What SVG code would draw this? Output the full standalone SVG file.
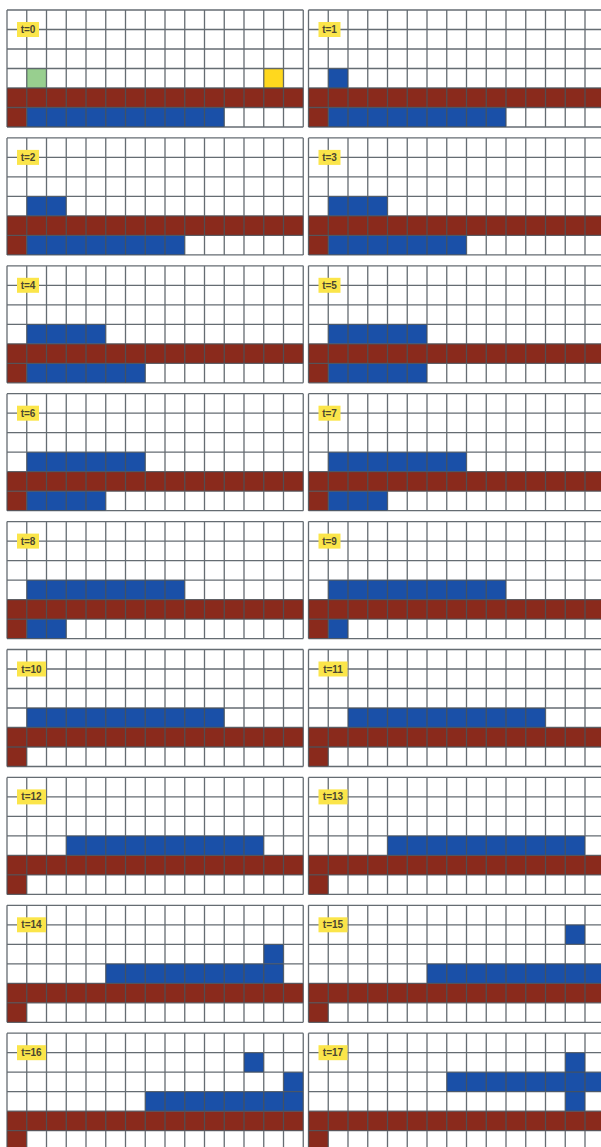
<svg xmlns="http://www.w3.org/2000/svg" xmlns:xlink="http://www.w3.org/1999/xlink" width="601" height="1147" viewBox="0 0 601 1147">
<style>
.bg{fill:#ffffff}
.r{fill:#8a2a1c}
.b{fill:#1a50a8}
.g{fill:#98cf8f}
.y{fill:#ffd81e}
.gl{fill:none;stroke:#4a5259;stroke-width:1.3;stroke-opacity:0.85}
.lb{fill:#fbe54a}
.lt{font-family:"Liberation Sans",Arial,sans-serif;font-size:10px;font-weight:bold;fill:#4a4630;text-anchor:middle}
</style>
<defs>
<g id="base">
<rect class="r" x="0" y="78" width="296.25" height="19.5"/>
<rect class="r" x="0" y="97.5" width="19.75" height="19.5"/>
</g>
<path id="grid" class="gl" d="M0 0V117M19.75 0V117M39.5 0V117M59.25 0V117M79 0V117M98.75 0V117M118.5 0V117M138.25 0V117M158 0V117M177.75 0V117M197.5 0V117M217.25 0V117M237 0V117M256.75 0V117M276.5 0V117M296.25 0V117M0 0H296.25M0 19.5H296.25M0 39H296.25M0 58.5H296.25M0 78H296.25M0 97.5H296.25M0 117H296.25"/>
</defs>
<rect class="bg" x="0" y="0" width="601" height="1147"/>

<g id="t0" transform="translate(7,10)">
<use xlink:href="#base" href="#base"/>
<rect class="g" x="19.75" y="58.5" width="19.75" height="19.5"/>
<rect class="y" x="256.75" y="58.5" width="19.75" height="19.5"/>
<rect class="b" x="19.75" y="97.5" width="197.5" height="19.5"/>
<use xlink:href="#grid" href="#grid"/>
<rect class="lb" x="10" y="12" width="22" height="15"/><text class="lt" x="21" y="23">t=0</text>
</g>
<g id="t1" transform="translate(308.5,10)">
<use xlink:href="#base" href="#base"/>
<rect class="b" x="19.75" y="58.5" width="19.75" height="19.5"/>
<rect class="b" x="19.75" y="97.5" width="177.75" height="19.5"/>
<use xlink:href="#grid" href="#grid"/>
<rect class="lb" x="10" y="12" width="22" height="15"/><text class="lt" x="21" y="23">t=1</text>
</g>
<g id="t2" transform="translate(7,137.9)">
<use xlink:href="#base" href="#base"/>
<rect class="b" x="19.75" y="58.5" width="39.5" height="19.5"/>
<rect class="b" x="19.75" y="97.5" width="158" height="19.5"/>
<use xlink:href="#grid" href="#grid"/>
<rect class="lb" x="10" y="12" width="22" height="15"/><text class="lt" x="21" y="23">t=2</text>
</g>
<g id="t3" transform="translate(308.5,137.9)">
<use xlink:href="#base" href="#base"/>
<rect class="b" x="19.75" y="58.5" width="59.25" height="19.5"/>
<rect class="b" x="19.75" y="97.5" width="138.25" height="19.5"/>
<use xlink:href="#grid" href="#grid"/>
<rect class="lb" x="10" y="12" width="22" height="15"/><text class="lt" x="21" y="23">t=3</text>
</g>
<g id="t4" transform="translate(7,265.8)">
<use xlink:href="#base" href="#base"/>
<rect class="b" x="19.75" y="58.5" width="79" height="19.5"/>
<rect class="b" x="19.75" y="97.5" width="118.5" height="19.5"/>
<use xlink:href="#grid" href="#grid"/>
<rect class="lb" x="10" y="12" width="22" height="15"/><text class="lt" x="21" y="23">t=4</text>
</g>
<g id="t5" transform="translate(308.5,265.8)">
<use xlink:href="#base" href="#base"/>
<rect class="b" x="19.75" y="58.5" width="98.75" height="19.5"/>
<rect class="b" x="19.75" y="97.5" width="98.75" height="19.5"/>
<use xlink:href="#grid" href="#grid"/>
<rect class="lb" x="10" y="12" width="22" height="15"/><text class="lt" x="21" y="23">t=5</text>
</g>
<g id="t6" transform="translate(7,393.7)">
<use xlink:href="#base" href="#base"/>
<rect class="b" x="19.75" y="58.5" width="118.5" height="19.5"/>
<rect class="b" x="19.75" y="97.5" width="79" height="19.5"/>
<use xlink:href="#grid" href="#grid"/>
<rect class="lb" x="10" y="12" width="22" height="15"/><text class="lt" x="21" y="23">t=6</text>
</g>
<g id="t7" transform="translate(308.5,393.7)">
<use xlink:href="#base" href="#base"/>
<rect class="b" x="19.75" y="58.5" width="138.25" height="19.5"/>
<rect class="b" x="19.75" y="97.5" width="59.25" height="19.5"/>
<use xlink:href="#grid" href="#grid"/>
<rect class="lb" x="10" y="12" width="22" height="15"/><text class="lt" x="21" y="23">t=7</text>
</g>
<g id="t8" transform="translate(7,521.6)">
<use xlink:href="#base" href="#base"/>
<rect class="b" x="19.75" y="58.5" width="158" height="19.5"/>
<rect class="b" x="19.75" y="97.5" width="39.5" height="19.5"/>
<use xlink:href="#grid" href="#grid"/>
<rect class="lb" x="10" y="12" width="22" height="15"/><text class="lt" x="21" y="23">t=8</text>
</g>
<g id="t9" transform="translate(308.5,521.6)">
<use xlink:href="#base" href="#base"/>
<rect class="b" x="19.75" y="58.5" width="177.75" height="19.5"/>
<rect class="b" x="19.75" y="97.5" width="19.75" height="19.5"/>
<use xlink:href="#grid" href="#grid"/>
<rect class="lb" x="10" y="12" width="22" height="15"/><text class="lt" x="21" y="23">t=9</text>
</g>
<g id="t10" transform="translate(7,649.5)">
<use xlink:href="#base" href="#base"/>
<rect class="b" x="19.75" y="58.5" width="197.5" height="19.5"/>
<use xlink:href="#grid" href="#grid"/>
<rect class="lb" x="10" y="12" width="29" height="15"/><text class="lt" x="24.5" y="23">t=10</text>
</g>
<g id="t11" transform="translate(308.5,649.5)">
<use xlink:href="#base" href="#base"/>
<rect class="b" x="39.5" y="58.5" width="197.5" height="19.5"/>
<use xlink:href="#grid" href="#grid"/>
<rect class="lb" x="10" y="12" width="29" height="15"/><text class="lt" x="24.5" y="23">t=11</text>
</g>
<g id="t12" transform="translate(7,777.4)">
<use xlink:href="#base" href="#base"/>
<rect class="b" x="59.25" y="58.5" width="197.5" height="19.5"/>
<use xlink:href="#grid" href="#grid"/>
<rect class="lb" x="10" y="12" width="29" height="15"/><text class="lt" x="24.5" y="23">t=12</text>
</g>
<g id="t13" transform="translate(308.5,777.4)">
<use xlink:href="#base" href="#base"/>
<rect class="b" x="79" y="58.5" width="197.5" height="19.5"/>
<use xlink:href="#grid" href="#grid"/>
<rect class="lb" x="10" y="12" width="29" height="15"/><text class="lt" x="24.5" y="23">t=13</text>
</g>
<g id="t14" transform="translate(7,905.3)">
<use xlink:href="#base" href="#base"/>
<rect class="b" x="98.75" y="58.5" width="177.75" height="19.5"/>
<rect class="b" x="256.75" y="39" width="19.75" height="19.5"/>
<use xlink:href="#grid" href="#grid"/>
<rect class="lb" x="10" y="12" width="29" height="15"/><text class="lt" x="24.5" y="23">t=14</text>
</g>
<g id="t15" transform="translate(308.5,905.3)">
<use xlink:href="#base" href="#base"/>
<rect class="b" x="118.5" y="58.5" width="177.75" height="19.5"/>
<rect class="b" x="256.75" y="19.5" width="19.75" height="19.5"/>
<use xlink:href="#grid" href="#grid"/>
<rect class="lb" x="10" y="12" width="29" height="15"/><text class="lt" x="24.5" y="23">t=15</text>
</g>
<g id="t16" transform="translate(7,1033.2)">
<use xlink:href="#base" href="#base"/>
<rect class="b" x="138.25" y="58.5" width="158" height="19.5"/>
<rect class="b" x="276.5" y="39" width="19.75" height="19.5"/>
<rect class="b" x="237" y="19.5" width="19.75" height="19.5"/>
<use xlink:href="#grid" href="#grid"/>
<rect class="lb" x="10" y="12" width="29" height="15"/><text class="lt" x="24.5" y="23">t=16</text>
</g>
<g id="t17" transform="translate(308.5,1033.2)">
<use xlink:href="#base" href="#base"/>
<rect class="b" x="138.25" y="39" width="158" height="19.5"/>
<rect class="b" x="256.75" y="19.5" width="19.75" height="58.5"/>
<use xlink:href="#grid" href="#grid"/>
<rect class="lb" x="10" y="12" width="29" height="15"/><text class="lt" x="24.5" y="23">t=17</text>
</g>
</svg>
